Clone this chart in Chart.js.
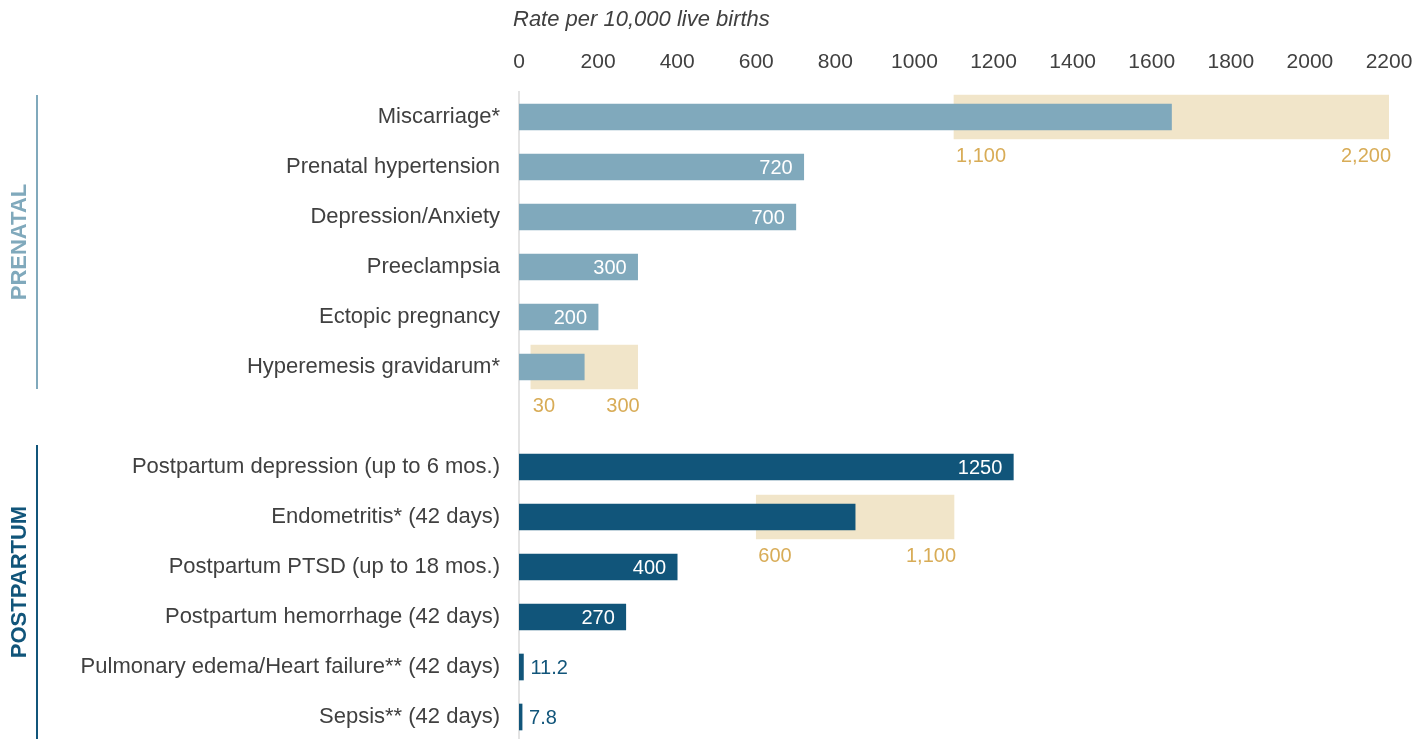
<!DOCTYPE html>
<html lang="en">
<head>
    <meta charset="UTF-8">
    <title>Rate per 10,000 live births</title>
    <script src="https://cdn.jsdelivr.net/npm/chart.js"></script>
    <style>
        * {
            margin: 0;
            padding: 0;
            box-sizing: border-box;
        }

        body {
            background: #ffffff;
            overflow: hidden;
        }

        #ratesChart {
            display: block;
        }
    </style>
</head>
<body>
    <canvas id="ratesChart" width="1420" height="745"></canvas>

    <script>
        // data
        const categories = [
            'Miscarriage*', 'Prenatal hypertension', 'Depression/Anxiety', 'Preeclampsia',
            'Ectopic pregnancy', 'Hyperemesis gravidarum*', '',
            'Postpartum depression (up to 6 mos.)', 'Endometritis* (42 days)',
            'Postpartum PTSD (up to 18 mos.)', 'Postpartum hemorrhage (42 days)',
            'Pulmonary edema/Heart failure** (42 days)', 'Sepsis** (42 days)'
        ];
        const rates = [1650, 720, 700, 300, 200, 165, null, 1250, 850, 400, 270, 11.2, 7.8];
        const rangeLow = [1100, null, null, null, null, 30, null, null, 600, null, null, null, null];
        const rangeHigh = [2200, null, null, null, null, 300, null, null, 1100, null, null, null, null];
        const groupNames = ['PRENATAL', 'POSTPARTUM'];
        const groupStart = [0, 7];
        const groupEnd = [5, 12];
        const xTicks = [0, 200, 400, 600, 800, 1000, 1200, 1400, 1600, 1800, 2000, 2200];
        const axisTitle = 'Rate per 10,000 live births';

        const prenatalColor = '#80a9bc';
        const postpartumColor = '#11557a';
        const rangeColor = '#f1e5c9';
        const rangeText = '#d8ac57';
        const textColor = '#404040';
        const fontFamily = "'Liberation Sans', Arial, sans-serif";

        const barColors = categories.map((c, i) => i < groupStart[1] ? prenatalColor : postpartumColor);
        const ranges = rangeLow.map((lo, i) => lo === null ? null : [lo, rangeHigh[i]]);

        const fmt = v => v.toLocaleString('en-US');

        const labelPlugin = {
            id: 'labelPlugin',
            afterDatasetsDraw(chart) {
                const ctx = chart.ctx;
                const barMeta = chart.getDatasetMeta(0);
                const rangeMeta = chart.getDatasetMeta(1);
                ctx.save();
                ctx.textBaseline = 'middle';

                // value labels
                ctx.font = '20px ' + fontFamily;
                barMeta.data.forEach((bar, i) => {
                    if (rates[i] === null || ranges[i]) return;
                    const w = bar.x - bar.base;
                    if (w > 50) {
                        ctx.fillStyle = '#ffffff';
                        ctx.textAlign = 'right';
                        ctx.fillText(String(rates[i]), bar.x - 11, bar.y + 1);
                    } else {
                        ctx.fillStyle = postpartumColor;
                        ctx.textAlign = 'left';
                        ctx.fillText(String(rates[i]), bar.x + 7, bar.y + 1);
                    }
                });

                // range labels under the bands
                ctx.fillStyle = rangeText;
                rangeMeta.data.forEach((el, i) => {
                    if (!ranges[i]) return;
                    const y = el.y + 39;
                    ctx.textAlign = 'left';
                    ctx.fillText(fmt(rangeLow[i]), el.base + 2, y);
                    ctx.textAlign = 'right';
                    ctx.fillText(fmt(rangeHigh[i]), el.x + 2, y);
                });
                ctx.restore();
            },
            afterDraw(chart) {
                const ctx = chart.ctx;
                const yScale = chart.scales.y;
                ctx.save();

                // axis title
                ctx.font = 'italic 22px ' + fontFamily;
                ctx.fillStyle = textColor;
                ctx.textAlign = 'left';
                ctx.textBaseline = 'middle';
                ctx.fillText(axisTitle, chart.chartArea.left - 6, 20);

                // group brackets
                const colors = [prenatalColor, postpartumColor];
                const textShift = [0, -10];
                groupNames.forEach((name, g) => {
                    const first = yScale.getPixelForValue(groupStart[g]);
                    const last = yScale.getPixelForValue(groupEnd[g]);
                    ctx.strokeStyle = colors[g];
                    ctx.lineWidth = 2;
                    ctx.beginPath();
                    ctx.moveTo(37, first - 22);
                    ctx.lineTo(37, last + 22);
                    ctx.stroke();

                    ctx.save();
                    ctx.translate(19, (first + last) / 2 + textShift[g]);
                    ctx.rotate(-Math.PI / 2);
                    ctx.font = 'bold 22px ' + fontFamily;
                    ctx.fillStyle = colors[g];
                    ctx.textAlign = 'center';
                    ctx.textBaseline = 'middle';
                    ctx.fillText(name, 0, 1);
                    ctx.restore();
                });
                ctx.restore();
            }
        };

        const initChart = () => {
            if (typeof Chart === 'undefined') {
                console.error('Chart.js not loaded');
                return;
            }
            Chart.defaults.font.family = fontFamily;
            Chart.defaults.color = textColor;

            const ctx = document.getElementById('ratesChart').getContext('2d');
            new Chart(ctx, {
                type: 'bar',
                data: {
                    labels: categories,
                    datasets: [{
                        label: 'Rate',
                        data: rates,
                        backgroundColor: barColors,
                        barThickness: 26,
                        grouped: false
                    }, {
                        label: 'Range',
                        data: ranges,
                        backgroundColor: rangeColor,
                        barThickness: 44,
                        grouped: false
                    }]
                },
                options: {
                    indexAxis: 'y',
                    responsive: false,
                    animation: false,
                    devicePixelRatio: 1,
                    layout: {
                        padding: { left: 0, right: 31, top: 0, bottom: 3 }
                    },
                    plugins: {
                        legend: { display: false },
                        tooltip: { enabled: false }
                    },
                    scales: {
                        x: {
                            position: 'top',
                            min: 0,
                            max: 2200,
                            afterBuildTicks: scale => {
                                scale.ticks = xTicks.map(v => ({ value: v }));
                            },
                            afterFit: scale => {
                                // fixed header height; let layout padding decide the right edge
                                scale.height = 92;
                                scale.paddingLeft = 0;
                                scale.paddingRight = 0;
                            },
                            grid: { display: false, drawTicks: false },
                            border: { display: false },
                            ticks: {
                                padding: 17,
                                color: textColor,
                                font: { size: 21 },
                                callback: v => String(v)
                            }
                        },
                        y: {
                            afterFit: scale => {
                                scale.width = 519;
                                scale.paddingTop = 0;
                                scale.paddingBottom = 0;
                            },
                            grid: { display: false, drawTicks: false },
                            border: { display: true, color: '#e3e3e3', width: 2 },
                            ticks: {
                                padding: 19,
                                color: textColor,
                                font: { size: 22 },
                                autoSkip: false
                            }
                        }
                    }
                },
                plugins: [labelPlugin]
            });
        };

        document.addEventListener('DOMContentLoaded', initChart);
    </script>
</body>
</html>
